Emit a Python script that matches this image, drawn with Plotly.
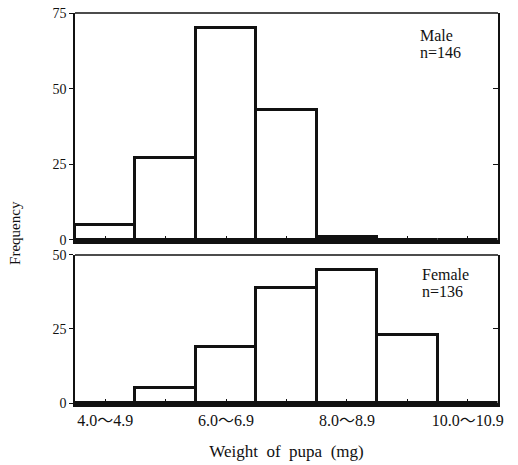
import plotly.graph_objects as go

bins = ["4.0〜4.9", "5.0〜5.9", "6.0〜6.9", "7.0〜7.9", "8.0〜8.9", "9.0〜9.9", "10.0〜10.9"]
male = [5, 27, 70, 43, 1, 0, 0]
female = [0, 5, 19, 39, 45, 23, 0]
male_label = ["Male", "n=146"]
female_label = ["Female", "n=136"]
male_yticks = [0, 25, 50, 75]
female_yticks = [0, 25, 50]
shown_xlabels = [b if i % 2 == 0 else "" for i, b in enumerate(bins)]

FONT = "Liberation Serif, Noto Sans CJK JP, serif"
xpos = list(range(len(bins)))

fig = go.Figure()
fig.add_trace(go.Bar(x=xpos, y=male, width=1, xaxis="x", yaxis="y",
                     marker=dict(color="white", line=dict(color="#111", width=3)),
                     showlegend=False, hoverinfo="skip"))
fig.add_trace(go.Bar(x=xpos, y=female, width=1, xaxis="x2", yaxis="y2",
                     marker=dict(color="white", line=dict(color="#111", width=3)),
                     showlegend=False, hoverinfo="skip"))
# helper traces for right-side inner ticks
fig.add_trace(go.Scatter(x=[None], y=[None], xaxis="x", yaxis="y3", showlegend=False, hoverinfo="skip"))
fig.add_trace(go.Scatter(x=[None], y=[None], xaxis="x2", yaxis="y4", showlegend=False, hoverinfo="skip"))

top_dom = [0.418, 1.0]
bot_dom = [0.0, 0.3795]

xcommon = dict(range=[-0.5, 6.5], showline=True, linecolor="#111", linewidth=4,
               ticks="inside", ticklen=4, tickcolor="#111", tickwidth=1, automargin=False,
               tickvals=xpos, showgrid=False, zeroline=False, fixedrange=True)
ycommon = dict(ticks="outside", ticklen=4, tickcolor="#111", showline=True, linecolor="#111",
               linewidth=1.5, showgrid=False, zeroline=False, fixedrange=True, automargin=False,
               tickfont=dict(size=14), ticklabeloverflow="allow")
rcommon = dict(side="right", ticks="inside", ticklen=5, tickcolor="#111", showticklabels=False,
               showline=True, linecolor="#111", linewidth=1.5, showgrid=False, zeroline=False,
               fixedrange=True, automargin=False)
fig.update_layout(
    width=518, height=465,
    margin=dict(l=75, r=20, t=13, b=62),
    paper_bgcolor="white", plot_bgcolor="white",
    font=dict(family=FONT, color="#111", size=15),
    bargap=0,
    xaxis=dict(**xcommon, anchor="y", ticktext=[""] * len(bins)),
    xaxis2=dict(**xcommon, anchor="y2", ticktext=shown_xlabels,
                tickfont=dict(size=16), ticklabeloverflow="allow",
                title=dict(text="Weight\u00a0\u00a0of\u00a0\u00a0pupa\u00a0\u00a0(mg)", font=dict(size=17), standoff=18)),
    yaxis=dict(**ycommon, domain=top_dom, range=[0, 75], tickvals=male_yticks),
    yaxis2=dict(**ycommon, domain=bot_dom, range=[0, 50], tickvals=female_yticks),
    yaxis3=dict(**rcommon, overlaying="y", range=[0, 75], tickvals=[25, 50]),
    yaxis4=dict(**rcommon, overlaying="y2", range=[0, 50], tickvals=[25]),
)

# top frame lines
for xr, yr in (("x domain", "y domain"), ("x2 domain", "y2 domain")):
    fig.add_shape(type="line", xref=xr, yref=yr, x0=0, x1=1, y0=1, y1=1,
                  line=dict(color="#111", width=1.5))

for (xr, yr, labels, x0, y0) in (("x domain", "y domain", male_label, 0.81, 0.945),
                                 ("x2 domain", "y2 domain", female_label, 0.815, 0.94)):
    for k, t in enumerate(labels):
        fig.add_annotation(text=t, xref=xr, yref=yr, x=x0, y=y0, yshift=-17 * k,
                           xanchor="left", yanchor="top", showarrow=False, align="left",
                           font=dict(size=16))

fig.add_annotation(text="Frequency", xref="paper", yref="paper", x=-0.142, y=0.436,
                   xanchor="center", yanchor="middle",
                   textangle=-90, showarrow=False, font=dict(size=15))

fig.write_html("out.html", config={"displayModeBar": False},
               post_script="document.body.style.margin='0';document.body.style.padding='0';")
